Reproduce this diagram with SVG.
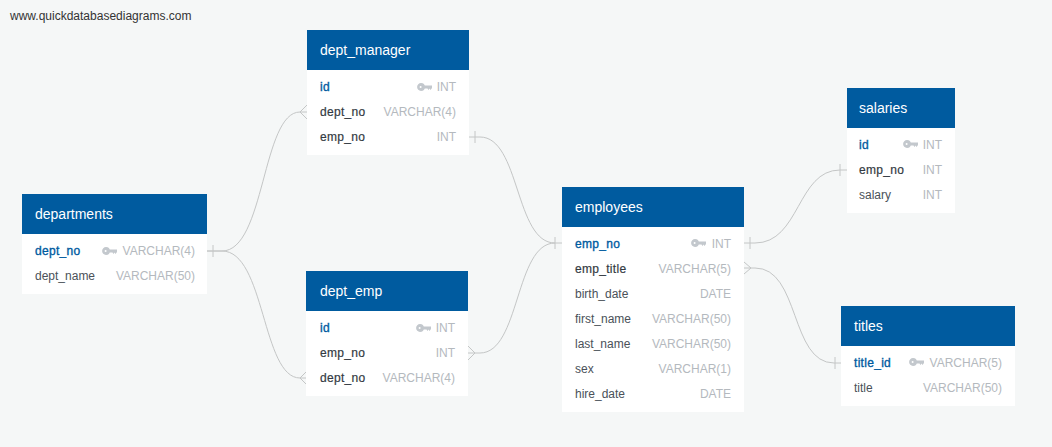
<svg xmlns="http://www.w3.org/2000/svg" width="1052" height="447" viewBox="0 0 1052 447">
<style>
text{font-family:"Liberation Sans",Arial,sans-serif;font-size:12px;fill:#4a5159}
.h{fill:#fff;font-size:14px}
.pk{fill:#005b9f;stroke:#005b9f;stroke-width:.35;letter-spacing:.3px}
.fk{fill:#333a42;stroke:#333a42;stroke-width:.2;letter-spacing:.3px}
.t{fill:#b4b9be;text-anchor:end}
.hd{fill:#005b9f}
.bd{fill:#fff}
.c{fill:none;stroke:#c4c6c6;stroke-width:1}
</style>
<defs>
<g id="key"><circle cx="4" cy="4" r="2.8" fill="#c3c8cd" stroke="#c3c8cd" stroke-width="2.2"/><circle cx="3.6" cy="4" r="1" fill="#fff"/><path d="M7 2.4H15V5L13.5 7L12.5 5.6L11.5 7L10.5 5.6H7Z" fill="#c3c8cd"/></g>
</defs>
<rect width="1052" height="447" fill="#f5f7f7"/>
<text x="10" y="20" style="fill:#333">www.quickdatabasediagrams.com</text>
<g id="connectors" class="c">
<path class="c" d="M207 251H222C265 251 262 112 300 112H307M300 112L307 105M300 112L307 119"/>
<path class="c" d="M207 251H222C265 251 262 378 300 378H307M300 378L307 371M300 378L307 385M213 245V257"/>
<path class="c" d="M469 137H480C520 137 515 243 555 243H562M475 131V143M555 237V249"/>
<path class="c" d="M468 353H480C520 353 515 243 555 243M475 353L468 346M475 353L468 360"/>
<path class="c" d="M744 243H755C800 243 797 170 840 170H847M750 237V249M840 164V176"/>
<path class="c" d="M744 268H755C800 268 790 363 834 363H841M751 268L744 262M751 268L744 274M835 357V369"/>
</g>
<g id="dept_manager">
<rect class="bd" x="307" y="30" width="162" height="125"/><rect class="hd" x="307" y="30" width="162" height="40"/>
<text class="h" x="320" y="55">dept_manager</text>
<text class="pk" x="320" y="91">id</text><use href="#key" x="417" y="83"/><text class="t" x="456" y="91">INT</text>
<text class="fk" x="320" y="116">dept_no</text><text class="t" x="456" y="116">VARCHAR(4)</text>
<text class="fk" x="320" y="141">emp_no</text><text class="t" x="456" y="141">INT</text>
</g>
<g id="departments">
<rect class="bd" x="22" y="194" width="185" height="100"/><rect class="hd" x="22" y="194" width="185" height="40"/>
<text class="h" x="35" y="219">departments</text>
<text class="pk" x="35" y="255">dept_no</text><use href="#key" x="102" y="247"/><text class="t" x="195" y="255">VARCHAR(4)</text>
<text x="35" y="280">dept_name</text><text class="t" x="195" y="280">VARCHAR(50)</text>
</g>
<g id="dept_emp">
<rect class="bd" x="306" y="271" width="162" height="125"/><rect class="hd" x="306" y="271" width="162" height="40"/>
<text class="h" x="320" y="296">dept_emp</text>
<text class="pk" x="320" y="332">id</text><use href="#key" x="416" y="324"/><text class="t" x="455" y="332">INT</text>
<text class="fk" x="320" y="357">emp_no</text><text class="t" x="455" y="357">INT</text>
<text class="fk" x="320" y="382">dept_no</text><text class="t" x="455" y="382">VARCHAR(4)</text>
</g>
<g id="employees">
<rect class="bd" x="562" y="187" width="182" height="225"/><rect class="hd" x="562" y="187" width="182" height="40"/>
<text class="h" x="575" y="212">employees</text>
<text class="pk" x="575" y="248">emp_no</text><use href="#key" x="691" y="239"/><text class="t" x="731" y="248">INT</text>
<text class="fk" x="575" y="273">emp_title</text><text class="t" x="731" y="273">VARCHAR(5)</text>
<text x="575" y="298">birth_date</text><text class="t" x="731" y="298">DATE</text>
<text x="575" y="323">first_name</text><text class="t" x="731" y="323">VARCHAR(50)</text>
<text x="575" y="348">last_name</text><text class="t" x="731" y="348">VARCHAR(50)</text>
<text x="575" y="373">sex</text><text class="t" x="731" y="373">VARCHAR(1)</text>
<text x="575" y="398">hire_date</text><text class="t" x="731" y="398">DATE</text>
</g>
<g id="salaries">
<rect class="bd" x="847" y="88" width="108" height="125"/><rect class="hd" x="847" y="88" width="108" height="40"/>
<text class="h" x="859" y="113">salaries</text>
<text class="pk" x="859" y="149">id</text><use href="#key" x="903" y="140"/><text class="t" x="942" y="149">INT</text>
<text class="fk" x="859" y="174">emp_no</text><text class="t" x="942" y="174">INT</text>
<text x="859" y="199">salary</text><text class="t" x="942" y="199">INT</text>
</g>
<g id="titles">
<rect class="bd" x="841" y="306" width="174" height="100"/><rect class="hd" x="841" y="306" width="174" height="40"/>
<text class="h" x="854" y="331">titles</text>
<text class="pk" x="854" y="367">title_id</text><use href="#key" x="909" y="358"/><text class="t" x="1002" y="367">VARCHAR(5)</text>
<text x="854" y="392">title</text><text class="t" x="1002" y="392">VARCHAR(50)</text>
</g>
</svg>
